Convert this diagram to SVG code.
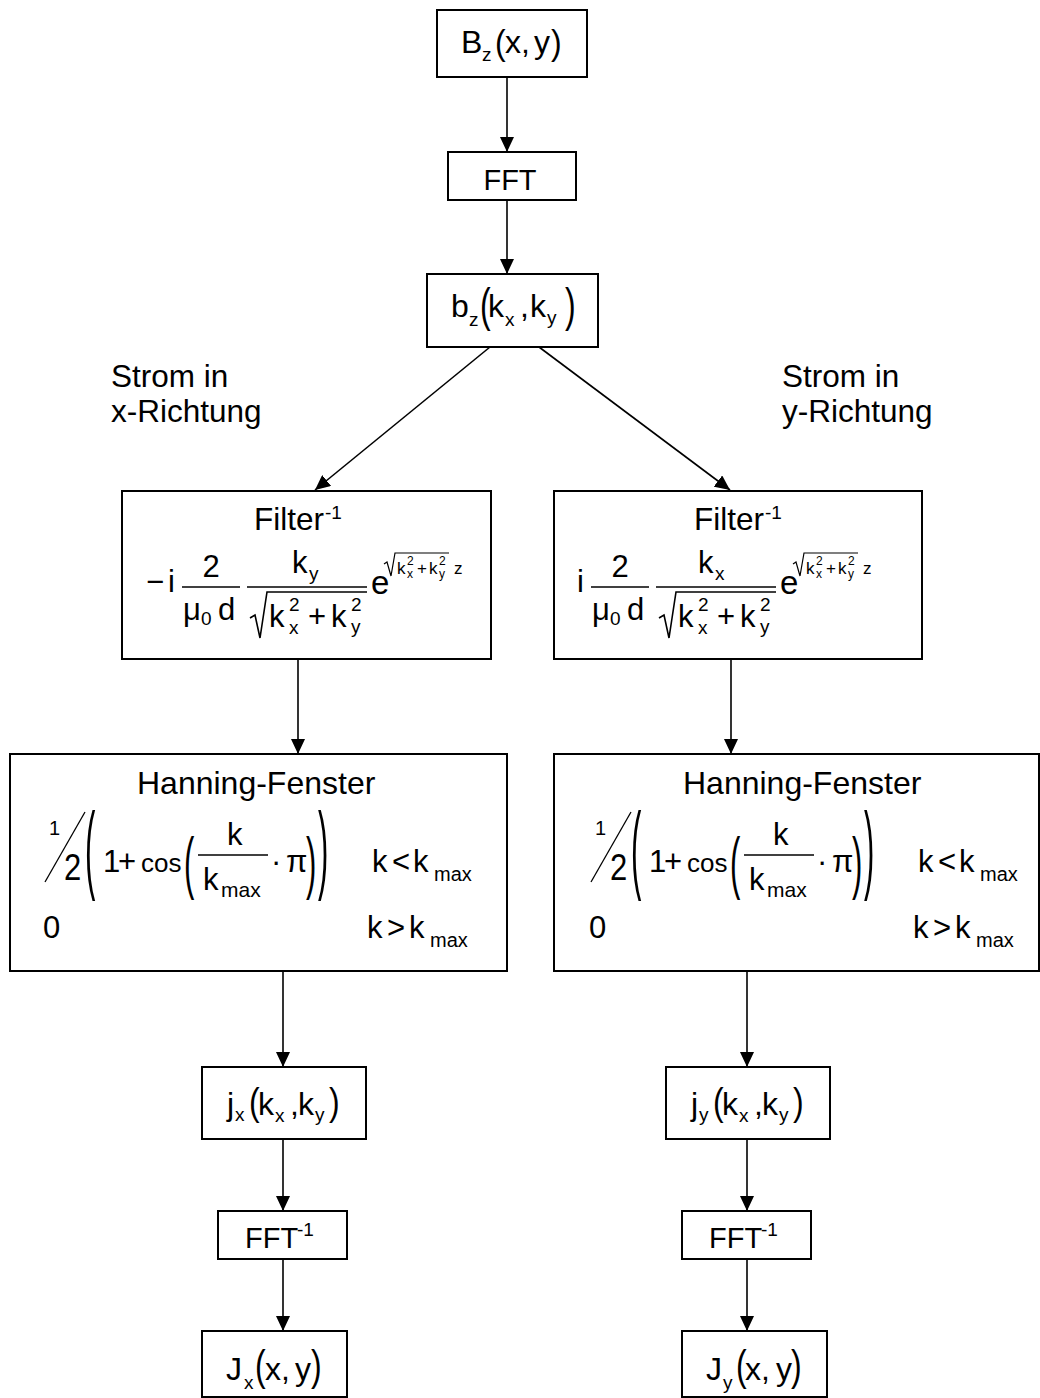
<svg xmlns="http://www.w3.org/2000/svg" width="1040" height="1398" viewBox="0 0 1040 1398">
<style>
text{font-family:"Liberation Sans",Arial,sans-serif;fill:#000}
.box{fill:#fff;stroke:#000;stroke-width:2}
.c{stroke:#000;stroke-width:1.6;fill:none;marker-end:url(#ah)}
.ln{stroke:#000;stroke-width:1.6;fill:none}
.L{font-size:32px}
.F{font-size:29px}
.T{font-size:31.5px}
.M{font-size:31px}
.S{font-size:19px}
.MX{font-size:20px}
.X{font-size:17px}
.XS{font-size:12px}
</style>
<defs>
<marker id="ah" viewBox="0 0 15 14" refX="15" refY="7" markerWidth="15" markerHeight="14" markerUnits="userSpaceOnUse" orient="auto">
<path d="M0,0 L15,7 L0,14 z" fill="#000"/>
</marker>
</defs>
<rect width="1040" height="1398" fill="#fff"/>
<g id="connectors">
<line class="c" x1="507" y1="77" x2="507" y2="152"/>
<line class="c" x1="507" y1="200" x2="507" y2="274"/>
<line class="c" x1="490" y1="347" x2="315" y2="490"/>
<line class="c" x1="539" y1="347" x2="730" y2="490"/>
<line class="c" x1="298" y1="659" x2="298" y2="754"/>
<line class="c" x1="731" y1="659" x2="731" y2="754"/>
<line class="c" x1="283" y1="971" x2="283" y2="1067"/>
<line class="c" x1="283" y1="1139" x2="283" y2="1211"/>
<line class="c" x1="283" y1="1259" x2="283" y2="1331"/>
<line class="c" x1="747" y1="971" x2="747" y2="1067"/>
<line class="c" x1="747" y1="1139" x2="747" y2="1211"/>
<line class="c" x1="747" y1="1259" x2="747" y2="1331"/>
</g>
<g id="n_Bz">
<rect class="box" x="437" y="10" width="150" height="67"/>
<text class="L" x="461" y="53">B</text><text class="S" x="482" y="61">z</text>
<text class="L" transform="translate(495,55) scale(1,1.12)">(</text>
<text class="L" x="505" y="53">x,</text><text class="L" x="534" y="53">y</text>
<text class="L" transform="translate(551,55) scale(1,1.12)">)</text>
</g>
<g id="n_FFT">
<rect class="box" x="448" y="152" width="128" height="48"/>
<text class="F" x="510" y="190" text-anchor="middle">FFT</text>
</g>
<g id="n_bz">
<rect class="box" x="427" y="274" width="171" height="73"/>
<text class="L" x="451" y="317">b</text><text class="S" x="469" y="326">z</text>
<text class="L" transform="translate(480,321) scale(1,1.42)">(</text>
<text class="L" x="488" y="317">k</text><text class="S" x="505" y="326">x</text>
<text class="L" x="520" y="317">,</text>
<text class="L" x="530" y="317">k</text><text class="S" x="547" y="324">y</text>
<text class="L" transform="translate(565,321) scale(1,1.42)">)</text>
</g>
<g id="lbl_x">
<text class="T" x="111" y="387">Strom in</text>
<text class="T" x="111" y="422">x-Richtung</text>
</g>
<g id="lbl_y">
<text class="T" x="782" y="387">Strom in</text>
<text class="T" x="782" y="422">y-Richtung</text>
</g>
<g id="n_filter_x">
<rect class="box" x="122" y="491" width="369" height="168"/>
<text class="T" x="254" y="530">Filter</text><text class="S" x="325" y="519">-1</text>
<text class="M" x="146" y="592">−</text>
<g id="fx">
<text class="M" x="168" y="592">i</text>
<line class="ln" x1="182" y1="587" x2="240" y2="587"/>
<text class="M" x="211" y="577" text-anchor="middle">2</text>
<text class="M" x="183" y="620">μ</text><text class="S" x="201" y="625">0</text>
<text class="M" x="218" y="620">d</text>
<line class="ln" x1="247" y1="587" x2="367" y2="587"/>
<path class="ln" d="M250,618 L255,615 L260,638 L267,592 L367,592"/>
<text class="M" x="269" y="627">k</text><text class="S" x="289" y="611">2</text><text class="S" x="289" y="634">x</text>
<text class="M" x="308" y="627">+</text>
<text class="M" x="331" y="627">k</text><text class="S" x="351" y="611">2</text><text class="S" x="351" y="633">y</text>
<text class="M" x="371" y="594" style="font-size:33px">e</text>
<path class="ln" d="M384,564 L387,562 L391,576 L395,553 L449,553" style="stroke-width:1.2"/>
<text class="X" x="397" y="574">k</text><text class="XS" x="407" y="565">2</text><text class="XS" x="407" y="578">x</text>
<text class="X" x="417" y="574">+</text>
<text class="X" x="429" y="574">k</text><text class="XS" x="439" y="565">2</text><text class="XS" x="439" y="578">y</text>
<text class="X" x="454" y="574">z</text>
</g>
<text class="M" x="292" y="573">k</text><text class="S" x="309" y="580">y</text>
</g>
<g id="n_filter_y">
<rect class="box" x="554" y="491" width="368" height="168"/>
<text class="T" x="694" y="530">Filter</text><text class="S" x="765" y="519">-1</text>
<use href="#fx" transform="translate(409,0)"/>
<text class="M" x="698" y="573">k</text><text class="S" x="715" y="580">x</text>
</g>
<g id="n_hann_x">
<rect class="box" x="10" y="754" width="497" height="217"/>
<text class="T" x="137" y="794" style="font-size:32px">Hanning-Fenster</text>
<g id="hf">
<text class="MX" x="49" y="835">1</text>
<line class="ln" x1="45" y1="882" x2="85" y2="812" style="stroke-width:1.3"/>
<text class="M" transform="translate(64,880) scale(1,1.2)">2</text>
<text class="M" transform="translate(85,881) scale(1,3.2)">(</text>
<text class="M" x="103" y="872">1</text>
<text class="M" x="118" y="872">+</text>
<text class="M" x="141" y="872" style="font-size:26px">cos</text>
<text class="M" transform="translate(184,885.5) scale(1,2.2)">(</text>
<line class="ln" x1="198" y1="855" x2="268" y2="855"/>
<text class="M" x="227" y="845">k</text>
<text class="M" x="203" y="890">k</text><text class="MX" x="221" y="897" style="font-size:21px">max</text>
<text class="M" x="271" y="872">·</text>
<text class="M" x="286" y="872">π</text>
<text class="M" transform="translate(306,885.5) scale(1,2.2)">)</text>
<text class="M" transform="translate(318,881) scale(1,3.2)">)</text>
<text class="M" x="372" y="872">k</text>
<text class="M" x="392" y="872">&lt;</text>
<text class="M" x="413" y="872">k</text><text class="MX" x="434" y="881">max</text>
<text class="M" x="43" y="938">0</text>
<text class="M" x="367" y="938">k</text>
<text class="M" x="387" y="938">&gt;</text>
<text class="M" x="409" y="938">k</text><text class="MX" x="430" y="947">max</text>
</g>
</g>
<g id="n_hann_y">
<rect class="box" x="554" y="754" width="485" height="217"/>
<text class="T" x="683" y="794" style="font-size:32px">Hanning-Fenster</text>
<use href="#hf" transform="translate(546,0)"/>
</g>
<g id="n_jx">
<rect class="box" x="202" y="1067" width="164" height="72"/>
<text class="L" x="227" y="1115">j</text><text class="S" x="235" y="1121">x</text>
<text class="L" transform="translate(249,1115) scale(1,1.2)">(</text>
<text class="L" x="258" y="1115">k</text><text class="S" x="275" y="1122">x</text>
<text class="L" x="290" y="1115">,</text>
<text class="L" x="298" y="1115">k</text><text class="S" x="315" y="1121">y</text>
<text class="L" transform="translate(329,1115) scale(1,1.2)">)</text>
</g>
<g id="n_ifft_x">
<rect class="box" x="218" y="1211" width="129" height="48"/>
<text class="F" x="245" y="1248">FFT</text><text class="S" x="297" y="1236">-1</text>
</g>
<g id="n_Jx">
<rect class="box" x="202" y="1331" width="145" height="66"/>
<text class="L" x="226" y="1380">J</text><text class="S" x="244" y="1389">x</text>
<text class="L" transform="translate(255,1380) scale(1,1.35)">(</text>
<text class="L" x="265" y="1380">x,</text><text class="L" x="295" y="1380">y</text>
<text class="L" transform="translate(311,1380) scale(1,1.35)">)</text>
</g>
<g id="n_jy">
<rect class="box" x="666" y="1067" width="164" height="72"/>
<text class="L" x="691" y="1115">j</text><text class="S" x="699" y="1121">y</text>
<text class="L" transform="translate(713,1115) scale(1,1.2)">(</text>
<text class="L" x="722" y="1115">k</text><text class="S" x="739" y="1122">x</text>
<text class="L" x="754" y="1115">,</text>
<text class="L" x="762" y="1115">k</text><text class="S" x="779" y="1121">y</text>
<text class="L" transform="translate(793,1115) scale(1,1.2)">)</text>
</g>
<g id="n_ifft_y">
<rect class="box" x="682" y="1211" width="129" height="48"/>
<text class="F" x="709" y="1248">FFT</text><text class="S" x="761" y="1236">-1</text>
</g>
<g id="n_Jy">
<rect class="box" x="682" y="1331" width="145" height="66"/>
<text class="L" x="706" y="1380">J</text><text class="S" x="723" y="1389">y</text>
<text class="L" transform="translate(736,1380) scale(1,1.35)">(</text>
<text class="L" x="745" y="1380">x,</text><text class="L" x="776" y="1380">y</text>
<text class="L" transform="translate(791,1380) scale(1,1.35)">)</text>
</g>
</svg>
